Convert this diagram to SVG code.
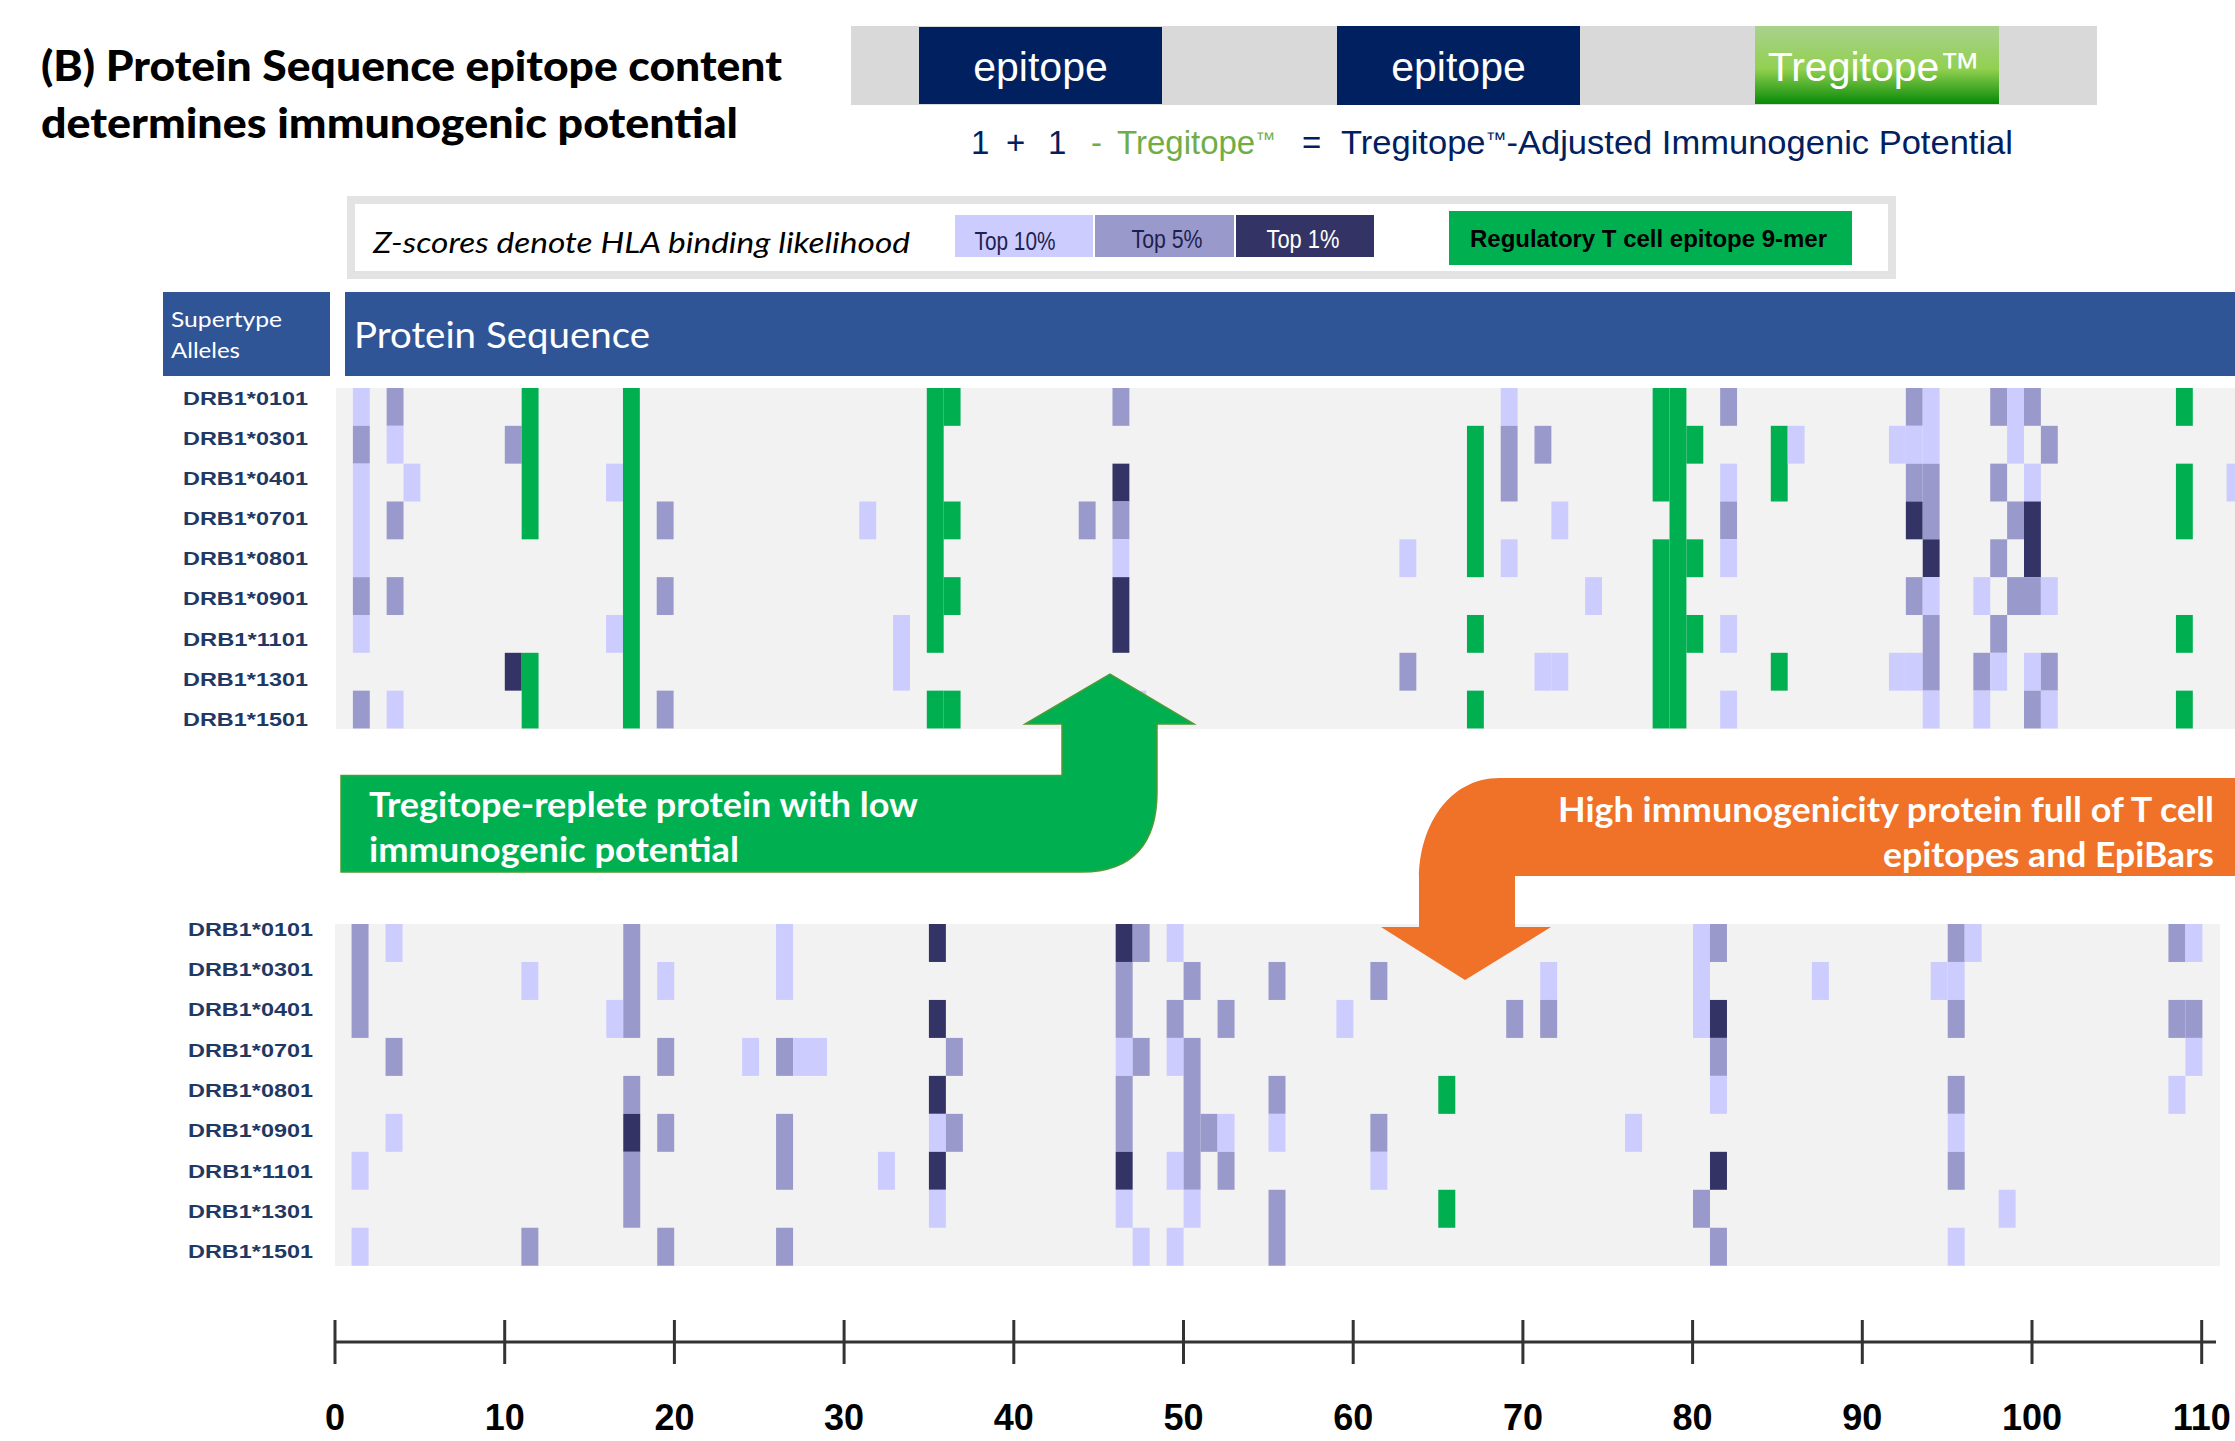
<svg xmlns="http://www.w3.org/2000/svg" width="2235" height="1441" viewBox="0 0 2235 1441">
<defs>
<linearGradient id="tgGrad" x1="0" y1="0" x2="0" y2="1">
<stop offset="0" stop-color="#a9d18e"/>
<stop offset="0.55" stop-color="#92d050"/>
<stop offset="1" stop-color="#078a07"/>
</linearGradient>
<style>
.L{fill:#ccccff}.M{fill:#9999cc}.D{fill:#333366}.G{fill:#00b050}
.bg{fill:#f2f2f2}
.lab{font-family:"Liberation Sans",Arial,sans-serif;font-weight:bold;font-size:19px;fill:#1f3864}
.ax{font-family:"Liberation Sans",Arial,sans-serif;font-weight:bold;font-size:36px;fill:#000;text-anchor:middle}
.cal{font-family:Lato,"Open Sans",sans-serif}
.ar{font-family:"Liberation Sans",Arial,sans-serif}
.navy{fill:#002060}
</style>
</defs>
<rect width="2235" height="1441" fill="#ffffff"/>

<g id="title">
<text class="cal" x="41" y="81" font-size="42" font-weight="900" fill="#000" textLength="741" lengthAdjust="spacingAndGlyphs">(B) Protein Sequence epitope content</text>
<text class="cal" x="41" y="138" font-size="42" font-weight="900" fill="#000" textLength="697" lengthAdjust="spacingAndGlyphs">determines immunogenic potential</text>
</g>

<g id="epitope-bar">
<rect x="851" y="26" width="1246" height="79" fill="#d9d9d9"/>
<rect x="919" y="27" width="243" height="77" fill="#002060"/>
<rect x="1337" y="26" width="243" height="79" fill="#002060"/>
<rect x="1755" y="26" width="244" height="78" fill="url(#tgGrad)"/>
<text class="ar" x="1040.5" y="81" font-size="41" fill="#fff" text-anchor="middle">epitope</text>
<text class="ar" x="1458.5" y="81" font-size="41" fill="#fff" text-anchor="middle">epitope</text>
<text class="ar" x="1874" y="81" font-size="41" fill="#fff" text-anchor="middle">Tregitope™</text>
</g>

<g id="formula">
<text class="ar navy" x="971" y="154" font-size="33">1</text>
<text class="ar navy" x="1006" y="154" font-size="33">+</text>
<text class="ar navy" x="1048" y="154" font-size="33">1</text>
<text class="ar" x="1091" y="154" font-size="33" fill="#70ad47">-</text>
<text class="ar" x="1117" y="154" font-size="33" fill="#70ad47">Tregitope<tspan font-size="20" dy="-8">™</tspan></text>
<text class="ar navy" x="1302" y="154" font-size="33">=</text>
<text class="ar navy" x="1341" y="154" font-size="33" textLength="672" lengthAdjust="spacingAndGlyphs">Tregitope<tspan font-size="20" dy="-8">™</tspan><tspan dy="8">-Adjusted Immunogenic Potential</tspan></text>
</g>

<g id="legend">
<rect x="351" y="200" width="1541" height="75" fill="#ffffff" stroke="#e3e3e3" stroke-width="8"/>
<text class="cal" x="373" y="253" font-size="28" font-style="italic" fill="#000" textLength="537" lengthAdjust="spacingAndGlyphs">Z-scores denote HLA binding likelihood</text>
<rect x="955" y="215" width="138" height="42" class="L"/>
<rect x="1095" y="215" width="139" height="42" class="M"/>
<rect x="1236" y="215" width="138" height="42" class="D"/>
<text class="ar" x="1015" y="250" font-size="25" fill="#1f1f4f" text-anchor="middle" textLength="81" lengthAdjust="spacingAndGlyphs">Top 10%</text>
<text class="ar" x="1167" y="248" font-size="25" fill="#1f1f4f" text-anchor="middle" textLength="71" lengthAdjust="spacingAndGlyphs">Top 5%</text>
<text class="ar" x="1303" y="248" font-size="25" fill="#ffffff" text-anchor="middle" textLength="73" lengthAdjust="spacingAndGlyphs">Top 1%</text>
<rect x="1449" y="211" width="403" height="54" class="G"/>
<text class="ar" x="1470" y="247" font-size="23" font-weight="bold" fill="#000" textLength="357" lengthAdjust="spacingAndGlyphs">Regulatory T cell epitope 9-mer</text>
</g>

<g id="header">
<rect x="163" y="292" width="167" height="84" fill="#2f5597"/>
<text class="cal" x="171" y="327" font-size="21" fill="#fff" textLength="111" lengthAdjust="spacingAndGlyphs">Supertype</text>
<text class="cal" x="171" y="358" font-size="21" fill="#fff" textLength="69" lengthAdjust="spacingAndGlyphs">Alleles</text>
<rect x="345" y="292" width="1890" height="84" fill="#2f5597"/>
<text class="cal" x="354" y="348" font-size="37" fill="#fff" textLength="296" lengthAdjust="spacingAndGlyphs">Protein Sequence</text>
</g>

<g id="labels-top">
<text class="lab" x="183" y="405" textLength="125" lengthAdjust="spacingAndGlyphs">DRB1*0101</text>
<text class="lab" x="183" y="445" textLength="125" lengthAdjust="spacingAndGlyphs">DRB1*0301</text>
<text class="lab" x="183" y="485" textLength="125" lengthAdjust="spacingAndGlyphs">DRB1*0401</text>
<text class="lab" x="183" y="525" textLength="125" lengthAdjust="spacingAndGlyphs">DRB1*0701</text>
<text class="lab" x="183" y="565" textLength="125" lengthAdjust="spacingAndGlyphs">DRB1*0801</text>
<text class="lab" x="183" y="605" textLength="125" lengthAdjust="spacingAndGlyphs">DRB1*0901</text>
<text class="lab" x="183" y="646" textLength="125" lengthAdjust="spacingAndGlyphs">DRB1*1101</text>
<text class="lab" x="183" y="686" textLength="125" lengthAdjust="spacingAndGlyphs">DRB1*1301</text>
<text class="lab" x="183" y="726" textLength="125" lengthAdjust="spacingAndGlyphs">DRB1*1501</text>
</g>

<g id="heatmap-top">
<rect class="bg" x="336" y="388" width="1899" height="341"/>
<g transform="translate(336 388) scale(16.88 37.83)">
<rect class="L" x="1" y="0" width="1" height="1"/><rect class="M" x="1" y="1" width="1" height="1"/><rect class="L" x="1" y="2" width="1" height="3"/><rect class="M" x="1" y="5" width="1" height="1"/><rect class="L" x="1" y="6" width="1" height="1"/><rect class="M" x="1" y="8" width="1" height="1"/>
<rect class="M" x="3" y="0" width="1" height="1"/><rect class="L" x="3" y="1" width="1" height="1"/><rect class="M" x="3" y="3" width="1" height="1"/><rect class="M" x="3" y="5" width="1" height="1"/><rect class="L" x="3" y="8" width="1" height="1"/>
<rect class="L" x="4" y="2" width="1" height="1"/>
<rect class="M" x="10" y="1" width="1" height="1"/><rect class="D" x="10" y="7" width="1" height="1"/>
<rect class="G" x="11" y="0" width="1" height="4"/><rect class="G" x="11" y="7" width="1" height="2"/>
<rect class="L" x="16" y="2" width="1" height="1"/><rect class="L" x="16" y="6" width="1" height="1"/>
<rect class="G" x="17" y="0" width="1" height="9"/>
<rect class="M" x="19" y="3" width="1" height="1"/><rect class="M" x="19" y="5" width="1" height="1"/><rect class="M" x="19" y="8" width="1" height="1"/>
<rect class="L" x="31" y="3" width="1" height="1"/>
<rect class="L" x="33" y="6" width="1" height="2"/>
<rect class="G" x="35" y="0" width="1" height="7"/><rect class="G" x="35" y="8" width="1" height="1"/>
<rect class="G" x="36" y="0" width="1" height="1"/><rect class="G" x="36" y="3" width="1" height="1"/><rect class="G" x="36" y="5" width="1" height="1"/><rect class="G" x="36" y="8" width="1" height="1"/>
<rect class="M" x="44" y="3" width="1" height="1"/>
<rect class="M" x="46" y="0" width="1" height="1"/><rect class="D" x="46" y="2" width="1" height="1"/><rect class="M" x="46" y="3" width="1" height="1"/><rect class="L" x="46" y="4" width="1" height="1"/><rect class="D" x="46" y="5" width="1" height="2"/>
<rect class="L" x="47" y="8" width="1" height="1"/>
<rect class="L" x="63" y="4" width="1" height="1"/><rect class="M" x="63" y="7" width="1" height="1"/>
<rect class="G" x="67" y="1" width="1" height="4"/><rect class="G" x="67" y="6" width="1" height="1"/><rect class="G" x="67" y="8" width="1" height="1"/>
<rect class="L" x="69" y="0" width="1" height="1"/><rect class="M" x="69" y="1" width="1" height="2"/><rect class="L" x="69" y="4" width="1" height="1"/>
<rect class="M" x="71" y="1" width="1" height="1"/><rect class="L" x="71" y="7" width="1" height="1"/>
<rect class="L" x="72" y="3" width="1" height="1"/><rect class="L" x="72" y="7" width="1" height="1"/>
<rect class="L" x="74" y="5" width="1" height="1"/>
<rect class="G" x="78" y="0" width="1" height="3"/><rect class="G" x="78" y="4" width="1" height="5"/>
<rect class="G" x="79" y="0" width="1" height="9"/>
<rect class="G" x="80" y="1" width="1" height="1"/><rect class="G" x="80" y="4" width="1" height="1"/><rect class="G" x="80" y="6" width="1" height="1"/>
<rect class="M" x="82" y="0" width="1" height="1"/><rect class="L" x="82" y="2" width="1" height="1"/><rect class="M" x="82" y="3" width="1" height="1"/><rect class="L" x="82" y="4" width="1" height="1"/><rect class="L" x="82" y="6" width="1" height="1"/><rect class="L" x="82" y="8" width="1" height="1"/>
<rect class="G" x="85" y="1" width="1" height="2"/><rect class="G" x="85" y="7" width="1" height="1"/>
<rect class="L" x="86" y="1" width="1" height="1"/>
<rect class="L" x="92" y="1" width="1" height="1"/><rect class="L" x="92" y="7" width="1" height="1"/>
<rect class="M" x="93" y="0" width="1" height="1"/><rect class="L" x="93" y="1" width="1" height="1"/><rect class="M" x="93" y="2" width="1" height="1"/><rect class="D" x="93" y="3" width="1" height="1"/><rect class="M" x="93" y="5" width="1" height="1"/><rect class="L" x="93" y="7" width="1" height="1"/>
<rect class="L" x="94" y="0" width="1" height="2"/><rect class="M" x="94" y="2" width="1" height="2"/><rect class="D" x="94" y="4" width="1" height="1"/><rect class="L" x="94" y="5" width="1" height="1"/><rect class="M" x="94" y="6" width="1" height="2"/><rect class="L" x="94" y="8" width="1" height="1"/>
<rect class="L" x="97" y="5" width="1" height="1"/><rect class="M" x="97" y="7" width="1" height="1"/><rect class="L" x="97" y="8" width="1" height="1"/>
<rect class="M" x="98" y="0" width="1" height="1"/><rect class="M" x="98" y="2" width="1" height="1"/><rect class="M" x="98" y="4" width="1" height="1"/><rect class="M" x="98" y="6" width="1" height="1"/><rect class="L" x="98" y="7" width="1" height="1"/>
<rect class="L" x="99" y="0" width="1" height="2"/><rect class="M" x="99" y="3" width="1" height="1"/><rect class="M" x="99" y="5" width="1" height="1"/>
<rect class="M" x="100" y="0" width="1" height="1"/><rect class="L" x="100" y="2" width="1" height="1"/><rect class="D" x="100" y="3" width="1" height="2"/><rect class="M" x="100" y="5" width="1" height="1"/><rect class="L" x="100" y="7" width="1" height="1"/><rect class="M" x="100" y="8" width="1" height="1"/>
<rect class="M" x="101" y="1" width="1" height="1"/><rect class="L" x="101" y="5" width="1" height="1"/><rect class="M" x="101" y="7" width="1" height="1"/><rect class="L" x="101" y="8" width="1" height="1"/>
<rect class="G" x="109" y="0" width="1" height="1"/><rect class="G" x="109" y="2" width="1" height="2"/><rect class="G" x="109" y="6" width="1" height="1"/><rect class="G" x="109" y="8" width="1" height="1"/>
<rect class="L" x="112" y="2" width="1" height="1"/>
</g>
</g>

<g id="labels-bottom">
<text class="lab" x="188" y="936" textLength="125" lengthAdjust="spacingAndGlyphs">DRB1*0101</text>
<text class="lab" x="188" y="976" textLength="125" lengthAdjust="spacingAndGlyphs">DRB1*0301</text>
<text class="lab" x="188" y="1016" textLength="125" lengthAdjust="spacingAndGlyphs">DRB1*0401</text>
<text class="lab" x="188" y="1057" textLength="125" lengthAdjust="spacingAndGlyphs">DRB1*0701</text>
<text class="lab" x="188" y="1097" textLength="125" lengthAdjust="spacingAndGlyphs">DRB1*0801</text>
<text class="lab" x="188" y="1137" textLength="125" lengthAdjust="spacingAndGlyphs">DRB1*0901</text>
<text class="lab" x="188" y="1178" textLength="125" lengthAdjust="spacingAndGlyphs">DRB1*1101</text>
<text class="lab" x="188" y="1218" textLength="125" lengthAdjust="spacingAndGlyphs">DRB1*1301</text>
<text class="lab" x="188" y="1258" textLength="125" lengthAdjust="spacingAndGlyphs">DRB1*1501</text>
</g>

<g id="heatmap-bottom">
<rect class="bg" x="335" y="924" width="1885" height="342"/>
<g transform="translate(334.6 924) scale(16.98 37.97)">
<rect class="M" x="1" y="0" width="1" height="3"/><rect class="L" x="1" y="6" width="1" height="1"/><rect class="L" x="1" y="8" width="1" height="1"/>
<rect class="L" x="3" y="0" width="1" height="1"/><rect class="M" x="3" y="3" width="1" height="1"/><rect class="L" x="3" y="5" width="1" height="1"/>
<rect class="L" x="11" y="1" width="1" height="1"/><rect class="M" x="11" y="8" width="1" height="1"/>
<rect class="L" x="16" y="2" width="1" height="1"/>
<rect class="M" x="17" y="0" width="1" height="3"/><rect class="M" x="17" y="4" width="1" height="1"/><rect class="D" x="17" y="5" width="1" height="1"/><rect class="M" x="17" y="6" width="1" height="2"/>
<rect class="L" x="19" y="1" width="1" height="1"/><rect class="M" x="19" y="3" width="1" height="1"/><rect class="M" x="19" y="5" width="1" height="1"/><rect class="M" x="19" y="8" width="1" height="1"/>
<rect class="L" x="24" y="3" width="1" height="1"/>
<rect class="L" x="26" y="0" width="1" height="2"/><rect class="M" x="26" y="3" width="1" height="1"/><rect class="M" x="26" y="5" width="1" height="2"/><rect class="M" x="26" y="8" width="1" height="1"/>
<rect class="L" x="27" y="3" width="2" height="1"/>
<rect class="L" x="32" y="6" width="1" height="1"/>
<rect class="D" x="35" y="0" width="1" height="1"/><rect class="D" x="35" y="2" width="1" height="1"/><rect class="D" x="35" y="4" width="1" height="1"/><rect class="L" x="35" y="5" width="1" height="1"/><rect class="D" x="35" y="6" width="1" height="1"/><rect class="L" x="35" y="7" width="1" height="1"/>
<rect class="M" x="36" y="3" width="1" height="1"/><rect class="M" x="36" y="5" width="1" height="1"/>
<rect class="D" x="46" y="0" width="1" height="1"/><rect class="M" x="46" y="1" width="1" height="2"/><rect class="L" x="46" y="3" width="1" height="1"/><rect class="M" x="46" y="4" width="1" height="2"/><rect class="D" x="46" y="6" width="1" height="1"/><rect class="L" x="46" y="7" width="1" height="1"/>
<rect class="M" x="47" y="0" width="1" height="1"/><rect class="M" x="47" y="3" width="1" height="1"/><rect class="L" x="47" y="8" width="1" height="1"/>
<rect class="L" x="49" y="0" width="1" height="1"/><rect class="M" x="49" y="2" width="1" height="1"/><rect class="L" x="49" y="3" width="1" height="1"/><rect class="L" x="49" y="6" width="1" height="1"/><rect class="L" x="49" y="8" width="1" height="1"/>
<rect class="M" x="50" y="1" width="1" height="1"/><rect class="M" x="50" y="3" width="1" height="4"/><rect class="L" x="50" y="7" width="1" height="1"/>
<rect class="M" x="51" y="5" width="1" height="1"/>
<rect class="M" x="52" y="2" width="1" height="1"/><rect class="L" x="52" y="5" width="1" height="1"/><rect class="M" x="52" y="6" width="1" height="1"/>
<rect class="M" x="55" y="1" width="1" height="1"/><rect class="M" x="55" y="4" width="1" height="1"/><rect class="L" x="55" y="5" width="1" height="1"/><rect class="M" x="55" y="7" width="1" height="2"/>
<rect class="L" x="59" y="2" width="1" height="1"/>
<rect class="M" x="61" y="1" width="1" height="1"/><rect class="M" x="61" y="5" width="1" height="1"/><rect class="L" x="61" y="6" width="1" height="1"/>
<rect class="G" x="65" y="4" width="1" height="1"/><rect class="G" x="65" y="7" width="1" height="1"/>
<rect class="M" x="69" y="2" width="1" height="1"/>
<rect class="L" x="71" y="1" width="1" height="1"/><rect class="M" x="71" y="2" width="1" height="1"/>
<rect class="L" x="76" y="5" width="1" height="1"/>
<rect class="L" x="80" y="0" width="1" height="3"/><rect class="M" x="80" y="7" width="1" height="1"/>
<rect class="M" x="81" y="0" width="1" height="1"/><rect class="D" x="81" y="2" width="1" height="1"/><rect class="M" x="81" y="3" width="1" height="1"/><rect class="L" x="81" y="4" width="1" height="1"/><rect class="D" x="81" y="6" width="1" height="1"/><rect class="M" x="81" y="8" width="1" height="1"/>
<rect class="L" x="87" y="1" width="1" height="1"/>
<rect class="L" x="94" y="1" width="1" height="1"/>
<rect class="M" x="95" y="0" width="1" height="1"/><rect class="L" x="95" y="1" width="1" height="1"/><rect class="M" x="95" y="2" width="1" height="1"/><rect class="M" x="95" y="4" width="1" height="1"/><rect class="L" x="95" y="5" width="1" height="1"/><rect class="M" x="95" y="6" width="1" height="1"/><rect class="L" x="95" y="8" width="1" height="1"/>
<rect class="L" x="96" y="0" width="1" height="1"/>
<rect class="L" x="98" y="7" width="1" height="1"/>
<rect class="M" x="108" y="0" width="1" height="1"/><rect class="M" x="108" y="2" width="1" height="1"/><rect class="L" x="108" y="4" width="1" height="1"/>
<rect class="L" x="109" y="0" width="1" height="1"/><rect class="M" x="109" y="2" width="1" height="1"/><rect class="L" x="109" y="3" width="1" height="1"/>
</g>
</g>

<g id="callout-green">
<path d="M341 775.5 L1062 775.5 L1062 724 L1025 724 L1110 674 L1194 724 L1157 724 L1157 792 C1157 842 1134 872 1082 872 L341 872 Z" fill="#00b050" stroke="#4f9a35" stroke-width="1.5"/>
<text class="cal" x="369" y="817" font-size="34" font-weight="bold" fill="#fff" textLength="549" lengthAdjust="spacingAndGlyphs">Tregitope-replete protein with low</text>
<text class="cal" x="369" y="862" font-size="34" font-weight="bold" fill="#fff" textLength="370" lengthAdjust="spacingAndGlyphs">immunogenic potential</text>
</g>

<g id="callout-orange">
<path d="M2235 778 L1500 778 C1446 778 1419 830 1419 878 L1419 927 L1381 927 L1465 980 L1551 927 L1515 927 L1515 876 L2235 876 Z" fill="#f07128"/>
<text class="cal" x="2214" y="822" font-size="34" font-weight="bold" fill="#fff" text-anchor="end" textLength="656" lengthAdjust="spacingAndGlyphs">High immunogenicity protein full of T cell</text>
<text class="cal" x="2214" y="867" font-size="34" font-weight="bold" fill="#fff" text-anchor="end" textLength="331" lengthAdjust="spacingAndGlyphs">epitopes and EpiBars</text>
</g>

<g id="connectors"></g>

<g id="axis">
<g stroke="#333" stroke-width="3" fill="none">
<line x1="335" y1="1342" x2="2216" y2="1342"/>
<line x1="335" y1="1320" x2="335" y2="1364"/>
<line x1="504.7" y1="1320" x2="504.7" y2="1364"/>
<line x1="674.4" y1="1320" x2="674.4" y2="1364"/>
<line x1="844.1" y1="1320" x2="844.1" y2="1364"/>
<line x1="1013.8" y1="1320" x2="1013.8" y2="1364"/>
<line x1="1183.5" y1="1320" x2="1183.5" y2="1364"/>
<line x1="1353.2" y1="1320" x2="1353.2" y2="1364"/>
<line x1="1522.9" y1="1320" x2="1522.9" y2="1364"/>
<line x1="1692.6" y1="1320" x2="1692.6" y2="1364"/>
<line x1="1862.3" y1="1320" x2="1862.3" y2="1364"/>
<line x1="2032" y1="1320" x2="2032" y2="1364"/>
<line x1="2201.7" y1="1320" x2="2201.7" y2="1364"/>
</g>
<text class="ax" x="335" y="1430">0</text>
<text class="ax" x="504.7" y="1430">10</text>
<text class="ax" x="674.4" y="1430">20</text>
<text class="ax" x="844.1" y="1430">30</text>
<text class="ax" x="1013.8" y="1430">40</text>
<text class="ax" x="1183.5" y="1430">50</text>
<text class="ax" x="1353.2" y="1430">60</text>
<text class="ax" x="1522.9" y="1430">70</text>
<text class="ax" x="1692.6" y="1430">80</text>
<text class="ax" x="1862.3" y="1430">90</text>
<text class="ax" x="2032" y="1430">100</text>
<text class="ax" x="2201.7" y="1430">110</text>
</g>
</svg>
